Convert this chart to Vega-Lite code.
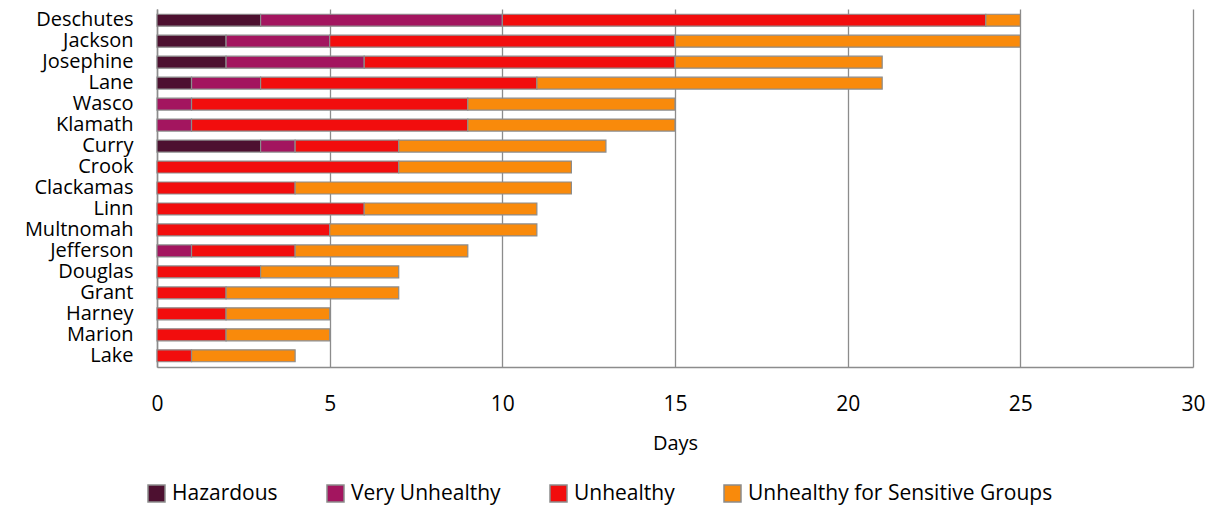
{
  "$schema": "https://vega.github.io/schema/vega-lite/v6.json",
  "width": 1036,
  "height": 358,
  "autosize": "none",
  "padding": {"left": 157, "top": 9, "right": 22, "bottom": 143},
  "background": "white",
  "config": {
    "font": "Open Sans",
    "view": {"stroke": null},
    "axis": {"labelFont": "Open Sans", "titleFont": "Open Sans"},
    "legend": {"labelFont": "Open Sans"}
  },
  "data": {
    "values": [
      {"county": "Deschutes", "category": "Hazardous", "ord": 1, "days": 3},
      {"county": "Deschutes", "category": "Very Unhealthy", "ord": 2, "days": 7},
      {"county": "Deschutes", "category": "Unhealthy", "ord": 3, "days": 14},
      {"county": "Deschutes", "category": "Unhealthy for Sensitive Groups", "ord": 4, "days": 1},
      {"county": "Jackson", "category": "Hazardous", "ord": 1, "days": 2},
      {"county": "Jackson", "category": "Very Unhealthy", "ord": 2, "days": 3},
      {"county": "Jackson", "category": "Unhealthy", "ord": 3, "days": 10},
      {"county": "Jackson", "category": "Unhealthy for Sensitive Groups", "ord": 4, "days": 10},
      {"county": "Josephine", "category": "Hazardous", "ord": 1, "days": 2},
      {"county": "Josephine", "category": "Very Unhealthy", "ord": 2, "days": 4},
      {"county": "Josephine", "category": "Unhealthy", "ord": 3, "days": 9},
      {"county": "Josephine", "category": "Unhealthy for Sensitive Groups", "ord": 4, "days": 6},
      {"county": "Lane", "category": "Hazardous", "ord": 1, "days": 1},
      {"county": "Lane", "category": "Very Unhealthy", "ord": 2, "days": 2},
      {"county": "Lane", "category": "Unhealthy", "ord": 3, "days": 8},
      {"county": "Lane", "category": "Unhealthy for Sensitive Groups", "ord": 4, "days": 10},
      {"county": "Wasco", "category": "Very Unhealthy", "ord": 2, "days": 1},
      {"county": "Wasco", "category": "Unhealthy", "ord": 3, "days": 8},
      {"county": "Wasco", "category": "Unhealthy for Sensitive Groups", "ord": 4, "days": 6},
      {"county": "Klamath", "category": "Very Unhealthy", "ord": 2, "days": 1},
      {"county": "Klamath", "category": "Unhealthy", "ord": 3, "days": 8},
      {"county": "Klamath", "category": "Unhealthy for Sensitive Groups", "ord": 4, "days": 6},
      {"county": "Curry", "category": "Hazardous", "ord": 1, "days": 3},
      {"county": "Curry", "category": "Very Unhealthy", "ord": 2, "days": 1},
      {"county": "Curry", "category": "Unhealthy", "ord": 3, "days": 3},
      {"county": "Curry", "category": "Unhealthy for Sensitive Groups", "ord": 4, "days": 6},
      {"county": "Crook", "category": "Unhealthy", "ord": 3, "days": 7},
      {"county": "Crook", "category": "Unhealthy for Sensitive Groups", "ord": 4, "days": 5},
      {"county": "Clackamas", "category": "Unhealthy", "ord": 3, "days": 4},
      {"county": "Clackamas", "category": "Unhealthy for Sensitive Groups", "ord": 4, "days": 8},
      {"county": "Linn", "category": "Unhealthy", "ord": 3, "days": 6},
      {"county": "Linn", "category": "Unhealthy for Sensitive Groups", "ord": 4, "days": 5},
      {"county": "Multnomah", "category": "Unhealthy", "ord": 3, "days": 5},
      {"county": "Multnomah", "category": "Unhealthy for Sensitive Groups", "ord": 4, "days": 6},
      {"county": "Jefferson", "category": "Very Unhealthy", "ord": 2, "days": 1},
      {"county": "Jefferson", "category": "Unhealthy", "ord": 3, "days": 3},
      {"county": "Jefferson", "category": "Unhealthy for Sensitive Groups", "ord": 4, "days": 5},
      {"county": "Douglas", "category": "Unhealthy", "ord": 3, "days": 3},
      {"county": "Douglas", "category": "Unhealthy for Sensitive Groups", "ord": 4, "days": 4},
      {"county": "Grant", "category": "Unhealthy", "ord": 3, "days": 2},
      {"county": "Grant", "category": "Unhealthy for Sensitive Groups", "ord": 4, "days": 5},
      {"county": "Harney", "category": "Unhealthy", "ord": 3, "days": 2},
      {"county": "Harney", "category": "Unhealthy for Sensitive Groups", "ord": 4, "days": 3},
      {"county": "Marion", "category": "Unhealthy", "ord": 3, "days": 2},
      {"county": "Marion", "category": "Unhealthy for Sensitive Groups", "ord": 4, "days": 3},
      {"county": "Lake", "category": "Unhealthy", "ord": 3, "days": 1},
      {"county": "Lake", "category": "Unhealthy for Sensitive Groups", "ord": 4, "days": 3}
    ]
  },
  "mark": {"type": "bar", "stroke": "#8c8c8c", "strokeWidth": 1.2},
  "encoding": {
    "y": {
      "field": "county",
      "type": "nominal",
      "sort": ["Deschutes", "Jackson", "Josephine", "Lane", "Wasco", "Klamath", "Curry", "Crook", "Clackamas", "Linn", "Multnomah", "Jefferson", "Douglas", "Grant", "Harney", "Marion", "Lake"],
      "scale": {"paddingInner": 0.43, "paddingOuter": 0.25},
      "axis": {
        "title": null,
        "ticks": false,
        "domain": true,
        "domainColor": "#8c8c8c",
        "domainWidth": 1.5,
        "labelFontSize": 20,
        "labelColor": "#000000",
        "labelPadding": 24
      }
    },
    "x": {
      "field": "days",
      "type": "quantitative",
      "aggregate": "sum",
      "stack": "zero",
      "scale": {"domain": [0, 30], "nice": false},
      "axis": {
        "title": "Days",
        "titleFontSize": 20,
        "titleFontWeight": "normal",
        "titleColor": "#000000",
        "titlePadding": 19,
        "values": [0, 5, 10, 15, 20, 25, 30],
        "ticks": false,
        "grid": true,
        "gridColor": "#8c8c8c",
        "gridWidth": 1.3,
        "domainColor": "#8c8c8c",
        "domainWidth": 1.5,
        "labelFontSize": 21,
        "labelColor": "#000000",
        "labelPadding": 26,
        "labelFlush": false
      }
    },
    "color": {
      "field": "category",
      "type": "nominal",
      "scale": {
        "domain": ["Hazardous", "Very Unhealthy", "Unhealthy", "Unhealthy for Sensitive Groups"],
        "range": ["#4d1030", "#a3155f", "#f20d0d", "#f98a0b"]
      },
      "legend": {
        "title": null,
        "orient": "none",
        "direction": "horizontal",
        "legendX": -11,
        "legendY": 474,
        "symbolType": "square",
        "symbolSize": 289,
        "symbolStrokeColor": "#8c8c8c",
        "symbolStrokeWidth": 1.5,
        "labelFontSize": 21,
        "labelColor": "#000000",
        "labelOffset": 5,
        "labelLimit": 500,
        "columnPadding": 46
      }
    },
    "order": {"field": "ord", "type": "quantitative"}
  }
}
